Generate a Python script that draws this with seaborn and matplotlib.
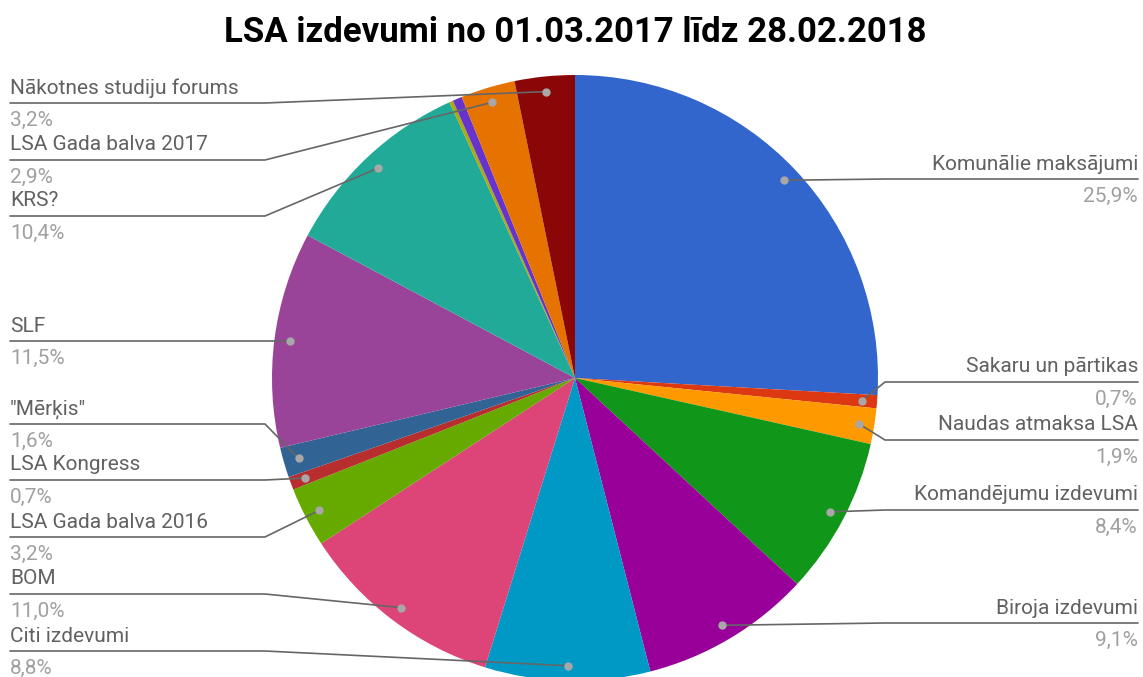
import numpy as np
import matplotlib
matplotlib.use("Agg")
import matplotlib.pyplot as plt
import seaborn as sns

# dati (procenti no kopējiem izdevumiem)
categories = ["Komunālie maksājumi", "Sakaru un pārtikas", "Naudas atmaksa LSA",
              "Komandējumu izdevumi", "Biroja izdevumi", "Citi izdevumi", "BOM",
              "LSA Gada balva 2016", "LSA Kongress", "\"Mērķis\"", "SLF", "KRS?",
              "", "", "LSA Gada balva 2017", "Nākotnes studiju forums"]
values = [25.9, 0.7, 1.9, 8.4, 9.1, 8.8, 11.0, 3.2, 0.7, 1.6, 11.5, 10.4,
          0.2, 0.5, 2.9, 3.2]
colors = ["#3366cc", "#dc3912", "#ff9900", "#109618", "#990099", "#0099c6",
          "#dd4477", "#66aa00", "#b82e2e", "#316395", "#994499", "#22aa99",
          "#aaaa11", "#6633cc", "#e67300", "#8b0707"]
title = "LSA izdevumi no 01.03.2017 līdz 28.02.2018"

# label layout: side and y of the leader line (pixels)
label_side = ["R", "R", "R", "R", "R", "L", "L", "L", "L", "L", "L", "L",
              None, None, "L", "L"]
label_y = [179, 382, 440, 510, 623, 651, 594, 537, 480, 424, 341, 216,
           None, None, 160, 103]

sns.set_theme(style="white")
plt.rcParams["font.family"] = ["Roboto", "DejaVu Sans"]

W, H = 1143, 677
fig = plt.figure(figsize=(W / 100, H / 100), dpi=100)
ax = fig.add_axes([0, 0, 1, 1])

cx, cy, r = 575, 378, 303
wedges, _ = ax.pie(values, colors=colors, startangle=-90, counterclock=True,
                   center=(cx, cy), radius=r,
                   wedgeprops=dict(linewidth=0))
ax.set_xlim(0, W)
ax.set_ylim(H, 0)
ax.set_aspect("equal")
ax.axis("off")

line_c = "#666666"
for w, name, v, side, ly in zip(wedges, categories, values, label_side, label_y):
    if side is None:
        continue
    mid = np.deg2rad((w.theta1 + w.theta2) / 2)
    dx = cx + 0.95 * r * np.cos(mid)
    dy = cy + 0.95 * r * np.sin(mid)
    pct = f"{v:.1f}%".replace(".", ",")
    if side == "R":
        ex = max(dx, 885)
        ax.plot([dx, ex, 1138], [dy, ly, ly], color=line_c, lw=1.2, zorder=3)
        tx, ha = 1138, "right"
    else:
        ex = min(dx, 265)
        ax.plot([dx, ex, 10], [dy, ly, ly], color=line_c, lw=1.2, zorder=3)
        tx, ha = 10, "left"
    ax.plot(dx, dy, "o", color="#a8a8a8", ms=5, zorder=4)
    ax.text(tx, ly - 15, name, ha=ha, va="center", fontsize=15, color="#616161")
    ax.text(tx, ly + 17, pct, ha=ha, va="center", fontsize=15, color="#a0a0a0")

ax.text(575, 33, title, ha="center", va="center", fontsize=25,
        fontweight="bold", color="#000000")

fig.savefig("out.png", dpi=100)
